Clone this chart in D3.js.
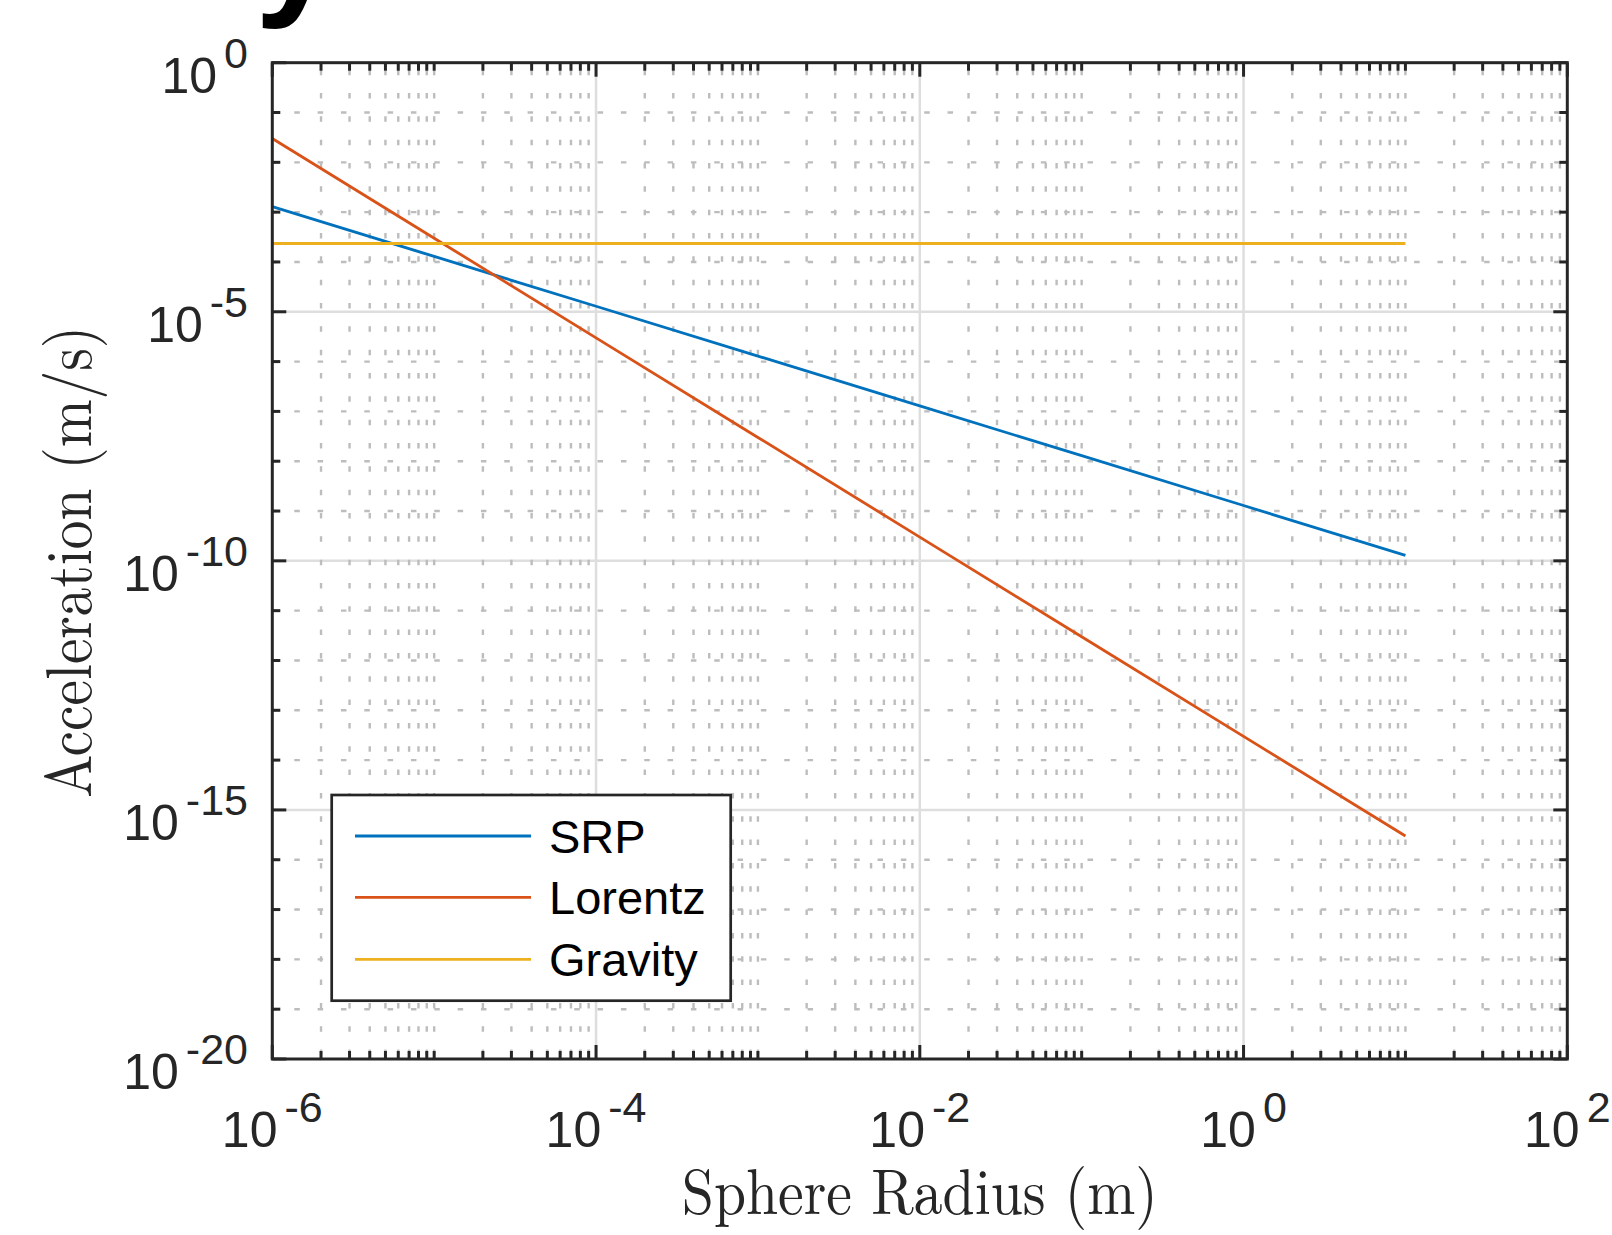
<!DOCTYPE html>
<html>
<head>
<meta charset="utf-8">
<script src="https://cdn.jsdelivr.net/npm/d3@7"></script>
<style>
  html, body { margin: 0; padding: 0; background: #fff; }
  svg { display: block; }
</style>
</head>
<body>
<script>
// ---------- data ----------
const radius  = [1e-6, 1e-5, 1e-4, 1e-3, 1e-2, 1e-1, 1e0, 1e1];
const srp     = [1.29e-3, 1.29e-4, 1.29e-5, 1.29e-6, 1.29e-7, 1.29e-8, 1.29e-9, 1.29e-10];
const lorentz = [3.0e-2, 3.0e-4, 3.0e-6, 3.0e-8, 3.0e-10, 3.0e-12, 3.0e-14, 3.0e-16];
const gravity = [2.35e-4, 2.35e-4, 2.35e-4, 2.35e-4, 2.35e-4, 2.35e-4, 2.35e-4, 2.35e-4];
const seriesNames = ["SRP", "Lorentz", "Gravity"];
const xTickExps = [-6, -4, -2, 0, 2];
const yTickExps = [0, -5, -10, -15, -20];
const xLabel = "Sphere Radius (m)";
const yLabel = "Acceleration (m/s)";

// ---------- layout ----------
const W = 1612, H = 1235;
const L = 272.3, R = 1567.3, T = 62.7, B = 1059;
const axisColor = "#262626";
const colors = ["#0072BD", "#D95319", "#EDB120"];

const svg = d3.select("body").append("svg").attr("width", W).attr("height", H);
svg.append("rect").attr("width", W).attr("height", H).attr("fill", "#fff");

const x = d3.scaleLog().domain([1e-6, 1e2]).range([L, R]);
const y = d3.scaleLog().domain([1e-20, 1]).range([B, T]);

// partial glyph at top-left (cropped subfigure letter)
svg.append("text").attr("x", 255).attr("y", -2)
  .attr("font-family", "Liberation Sans, Arial, sans-serif")
  .attr("font-weight", "bold").attr("font-size", 150).attr("fill", "#000").text("y");

// ticks
const xMajor = xTickExps.map(e => Math.pow(10, e));
const xMinor = [];
for (let e = -6; e < 2; e++) {
  for (let m = 1; m <= 9; m++) {
    const v = m * Math.pow(10, e);
    if (m === 1 && xTickExps.includes(e)) continue;
    xMinor.push(v);
  }
}
const yMajor = yTickExps.map(e => Math.pow(10, e));
const yMinor = [];
for (let e = -19; e < 0; e++) if (!yTickExps.includes(e)) yMinor.push(Math.pow(10, e));

const g = svg.append("g");

// major grid
g.selectAll(".gxM").data(xMajor.filter(v => v > 1e-6 && v < 1e2)).join("line")
  .attr("x1", d => x(d)).attr("x2", d => x(d)).attr("y1", B).attr("y2", T)
  .attr("stroke", "#dedede").attr("stroke-width", 2.5);
g.selectAll(".gyM").data(yMajor.filter(v => v > 1e-20 && v < 1)).join("line")
  .attr("y1", d => y(d)).attr("y2", d => y(d)).attr("x1", L).attr("x2", R)
  .attr("stroke", "#dedede").attr("stroke-width", 2.5);

// minor grid (dotted)
g.selectAll(".gxm").data(xMinor).join("line")
  .attr("x1", d => x(d)).attr("x2", d => x(d)).attr("y1", T).attr("y2", B)
  .attr("stroke", "#bdbdbd").attr("stroke-width", 2.4)
  .attr("stroke-dasharray", "5.5,17.83").attr("stroke-dashoffset", -7);
g.selectAll(".gym").data(yMinor).join("line")
  .attr("y1", d => y(d)).attr("y2", d => y(d)).attr("x1", L).attr("x2", R)
  .attr("stroke", "#bdbdbd").attr("stroke-width", 2.4)
  .attr("stroke-dasharray", "5.5,17.83").attr("stroke-dashoffset", -22);

// data lines
const line = d3.line().x(d => x(d[0])).y(d => y(d[1]));
const allSeries = [srp, lorentz, gravity];
allSeries.forEach((s, i) => {
  svg.append("path").datum(radius.map((r, k) => [r, s[k]]))
    .attr("d", line).attr("fill", "none")
    .attr("stroke", colors[i]).attr("stroke-width", 2.8);
});

// axis box
const ax = svg.append("g");
ax.append("rect").attr("x", L).attr("y", T).attr("width", R - L).attr("height", B - T)
  .attr("fill", "none").attr("stroke", axisColor).attr("stroke-width", 3);

const majLen = 14, minLen = 8;
function xTicks(vals, len) {
  ax.selectAll(null).data(vals).join("line")
    .attr("x1", d => x(d)).attr("x2", d => x(d)).attr("y1", B).attr("y2", B - len)
    .attr("stroke", axisColor).attr("stroke-width", 3);
  ax.selectAll(null).data(vals).join("line")
    .attr("x1", d => x(d)).attr("x2", d => x(d)).attr("y1", T).attr("y2", T + len)
    .attr("stroke", axisColor).attr("stroke-width", 3);
}
function yTicks(vals, len) {
  ax.selectAll(null).data(vals).join("line")
    .attr("y1", d => y(d)).attr("y2", d => y(d)).attr("x1", L).attr("x2", L + len)
    .attr("stroke", axisColor).attr("stroke-width", 3);
  ax.selectAll(null).data(vals).join("line")
    .attr("y1", d => y(d)).attr("y2", d => y(d)).attr("x1", R).attr("x2", R - len)
    .attr("stroke", axisColor).attr("stroke-width", 3);
}
xTicks(xMajor, majLen); xTicks(xMinor, minLen);
yTicks(yMajor, majLen); yTicks(yMinor, minLen);

// tick labels
const tickFont = "Liberation Sans, Arial, Helvetica, sans-serif";
function powLabel(sel, e) {
  sel.append("tspan").attr("font-size", 50).text("10");
  sel.append("tspan").attr("font-size", 43).attr("dx", 7).attr("dy", -25).text(String(e));
}
xTickExps.forEach(e => {
  const t = svg.append("text").attr("x", x(Math.pow(10, e))).attr("y", 1147)
    .attr("text-anchor", "middle").attr("font-family", tickFont).attr("fill", axisColor);
  powLabel(t, e);
});
yTickExps.forEach(e => {
  const t = svg.append("text").attr("x", 248).attr("y", y(Math.pow(10, e)) + 30)
    .attr("text-anchor", "end").attr("font-family", tickFont).attr("fill", axisColor);
  powLabel(t, e);
});

// axis labels
const serif = "'Latin Modern Roman', 'CMU Serif', 'Liberation Serif', 'DejaVu Serif', serif";
svg.append("text").attr("x", (L + R) / 2).attr("y", 1214)
  .attr("text-anchor", "middle").attr("font-family", serif).attr("font-size", 64)
  .attr("fill", axisColor).attr("textLength", 476).attr("lengthAdjust", "spacingAndGlyphs")
  .text(xLabel);
svg.append("text").attr("transform", `translate(91,${(T + B) / 2 + 1}) rotate(-90)`)
  .attr("text-anchor", "middle").attr("font-family", serif).attr("font-size", 65)
  .attr("fill", axisColor).attr("textLength", 472).attr("lengthAdjust", "spacingAndGlyphs")
  .text(yLabel);

// legend
const lg = svg.append("g");
lg.append("rect").attr("x", 331.7).attr("y", 795).attr("width", 399).attr("height", 205.7)
  .attr("fill", "#fff").attr("stroke", axisColor).attr("stroke-width", 2.7);
const legY = [836, 897.3, 959.3];
seriesNames.forEach((n, i) => {
  lg.append("line").attr("x1", 355).attr("x2", 531).attr("y1", legY[i]).attr("y2", legY[i])
    .attr("stroke", colors[i]).attr("stroke-width", 2.8);
  lg.append("text").attr("x", 549).attr("y", legY[i] + 17).attr("font-family", tickFont)
    .attr("font-size", 47).attr("fill", "#000").text(n);
});
</script>
</body>
</html>
